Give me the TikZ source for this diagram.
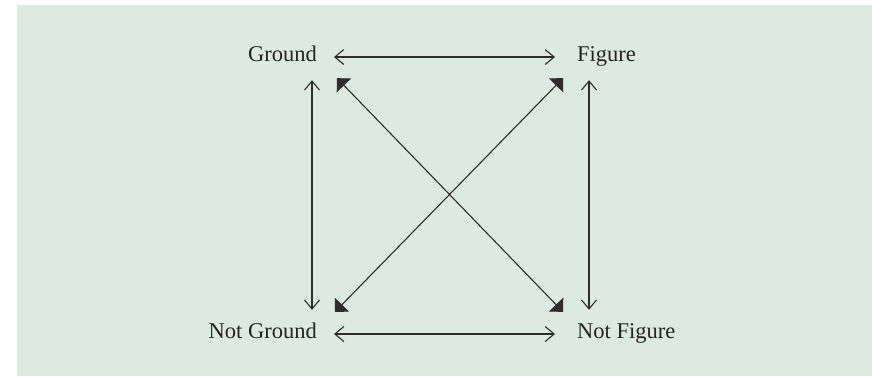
\documentclass[tikz,border=0pt]{standalone}
\usepackage{fontspec}
\setmainfont{Liberation Serif}
\usepackage{xcolor}
\usepackage{tikz}
\usetikzlibrary{arrows.meta}
\definecolor{panelGreen}{RGB}{220,234,227}
\definecolor{inkGray}{RGB}{45,45,45}
\tikzset{
    squareLabel/.style={
        inner sep=0pt,
        text=inkGray!80!black,
        font=\fontsize{22.5pt}{26pt}\selectfont,
        text height=0.8em,
        text depth=0pt
    },
    squareArrow/.style={
        {Straight Barb[length=9pt,width=15pt]}-{Straight Barb[length=9pt,width=15pt]},
        line width=1.1pt,
        draw=inkGray
    },
    squareCross/.style={
        {Triangle[length=10pt,width=20pt]}-{Triangle[length=10pt,width=20pt]},
        line width=1.1pt,
        draw=inkGray
    }
}

\begin{document}
\begin{tikzpicture}[x=1pt,y=-1pt]
        \useasboundingbox (0,0) rectangle (872,376);
        \fill[panelGreen] (17,5) rectangle (872,376);

        \node[squareLabel,anchor=east] (ground) at (317,57) {Ground};
        \node[squareLabel,anchor=west] (figure) at (577,57) {Figure};
        \node[squareLabel,anchor=east] (notground) at (317,334) {Not Ground};
        \node[squareLabel,anchor=west] (notfigure) at (577,334) {Not Figure};

        \draw[squareArrow,shorten <=17pt,shorten >=22pt] (ground.east) -- (figure.west);
        \draw[squareArrow,shorten <=17pt,shorten >=22pt] (notground.east) -- (notfigure.west);
        \draw[squareArrow,shorten <=19pt,shorten >=20pt] ([xshift=-5pt]ground.south east) -- ([xshift=-5pt]notground.north east);
        \draw[squareArrow,shorten <=19pt,shorten >=20pt] ([xshift=12pt]figure.south west) -- ([xshift=12pt]notfigure.north west);
        \draw[squareCross] ([shift={(20,17)}]ground.south east) -- ([shift={(-14,-18)}]notfigure.north west);
        \draw[squareCross] ([shift={(-14,17)}]figure.south west) -- ([shift={(18,-18)}]notground.north east);
    \end{tikzpicture}
\end{document}
